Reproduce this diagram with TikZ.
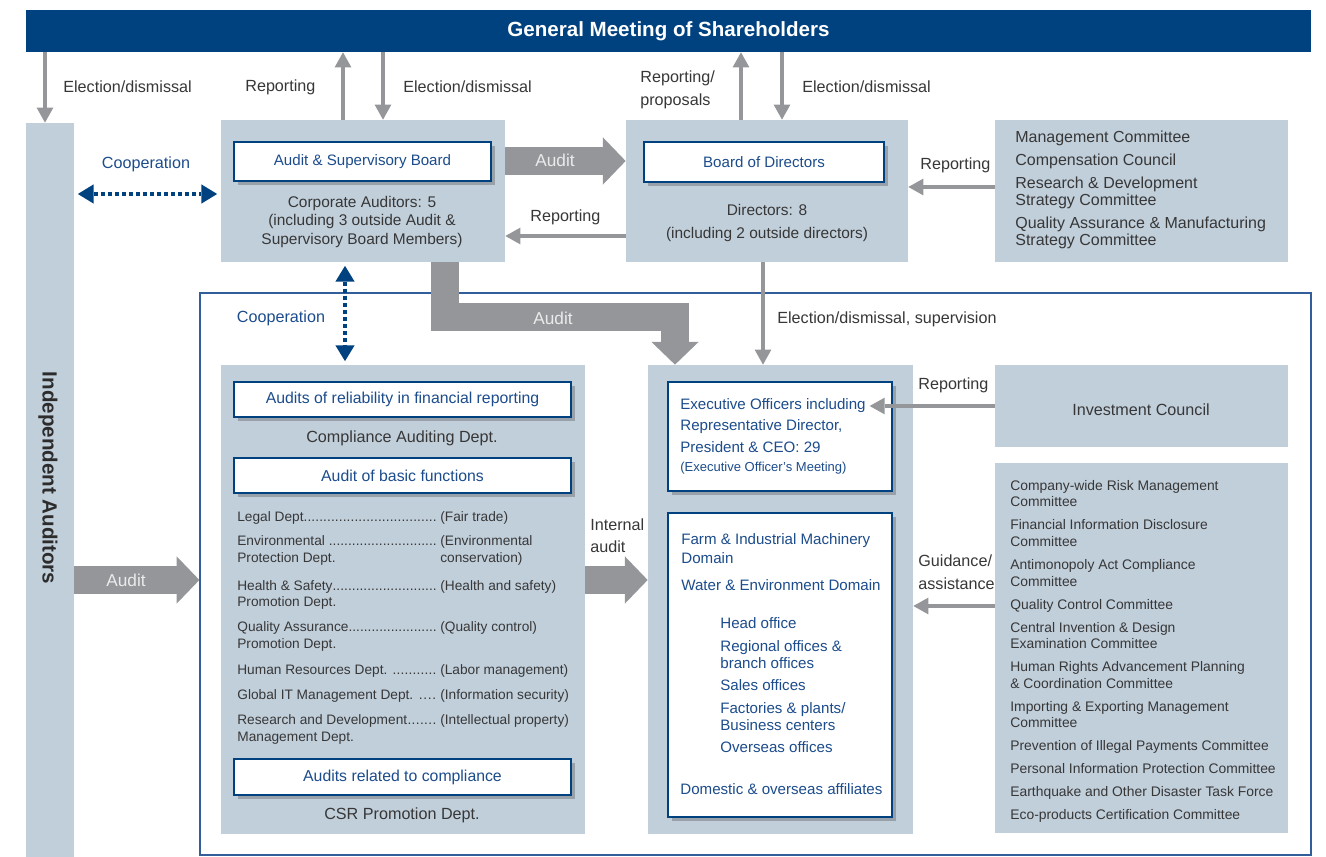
\documentclass[tikz,border=0pt]{standalone}
\usepackage{fontspec}
\setmainfont{Liberation Sans}
\usetikzlibrary{arrows.meta,fit,shadows}

\definecolor{gmblue}{RGB}{0,66,127}
\definecolor{boxgray}{RGB}{193,207,219}
\definecolor{arrowgray}{RGB}{148,150,153}
\definecolor{textblue}{RGB}{28,76,140}
\definecolor{textgray}{RGB}{55,55,55}
\definecolor{frameblue}{RGB}{50,95,155}

\newcommand{\fsTitle}{\fontsize{11.7}{14}\selectfont\bfseries}
\newcommand{\fsMain}{\fontsize{9.2}{11}\selectfont}
\newcommand{\fsBox}{\fontsize{8.6}{10.8}\selectfont}
\newcommand{\fsDept}{\fontsize{7.8}{9.6}\selectfont}
\newcommand{\fsNote}{\fontsize{7.4}{9}\selectfont}
% dotted leader between a department and its audit area
\newcommand{\deptrow}[2]{\makebox[115.5pt][l]{#1\xleaders\hbox{.}\hfill\kern2pt}#2}
\newcommand{\deptcont}[2]{\makebox[115.5pt][l]{#1}#2}

\tikzset{
  panel/.style={fill=boxgray, inner sep=0pt},
  wbox/.style={draw=gmblue, line width=0.6pt, fill=white, inner sep=0pt,
    drop shadow={shadow xshift=2pt, shadow yshift=-2.5pt, fill=black!70, opacity=0.35}},
  wtext/.style={text=textblue, font=\fsBox, inner sep=0pt},
  lbl/.style={text=textgray, font=\fsMain, inner sep=0pt},
  coop/.style={text=textblue, font=\fsMain, inner sep=0pt},
  garrow/.style={draw=arrowgray, line width=2.8pt,
    -{Triangle[width=9.5pt,length=8.5pt,line width=0pt]}},
  blockarrow/.style={draw=arrowgray, line width=16pt,
    -{Triangle[width=27pt,length=13pt,line width=0pt]}},
  blocklbl/.style={text=white!92!black, font=\fontsize{9.8}{12}\selectfont, inner sep=0pt},
  dotarrow/.style={draw=gmblue, line width=2.3pt, dash pattern=on 2.2pt off 1.8pt,
    shorten <=2pt, shorten >=2pt,
    {Triangle[width=11pt,length=9pt,line width=0pt]}-{Triangle[width=11pt,length=9pt,line width=0pt]}},
}

\begin{document}
\begin{tikzpicture}[x=0.02cm, y=-0.02cm]
\useasboundingbox (0,0) rectangle (1326,857);

% shareholders
\node[fit={(26,10) (1311,52)}, inner sep=0pt, fill=gmblue] (gm) {};
\node[text=white, font=\fsTitle, inner sep=0pt] (gmtext) at (gm.center) {General Meeting of Shareholders};

% independent auditors
\node[panel, fit={(26,123) (74,857)}] (ia) {};
\node[rotate=-90, text=textgray!80!black, font=\fsTitle] (iatext) at (48,478) {Independent Auditors};

% frame round the execution side
\node[draw=frameblue, line width=0.7pt, inner sep=0pt, fit={(200,293) (1311,855)}] (frame) {};

% audit & supervisory board
\node[panel, fit={(221,120) (505,262)}] (asb) {};
\node[wbox, fit={(234,142) (491,181)}] (asbt) {};
\node[wtext] (asbtext) at (asbt.center) {Audit \& Supervisory Board};
\node[lbl, align=center, font=\fontsize{8.8}{10.8}\selectfont] (asbinfo) at (362,222) {Corporate Auditors: 5\\(including 3 outside Audit \&\\Supervisory Board Members)};

% board of directors
\node[panel, fit={(626,120) (908,262)}] (bod) {};
\node[wbox, fit={(644,142) (884,182)}] (bodt) {};
\node[wtext] (bodtext) at (bodt.center) {Board of Directors};
\node[lbl, align=center, font=\fontsize{8.8}{13.6}\selectfont] (bodinfo) at (767,223) {Directors: 8\\(including 2 outside directors)};

% committees reporting to the board
\node[panel, fit={(995,120) (1288,262)}] (mc) {};
\node[lbl, anchor=west, align=left, font=\fontsize{9.1}{9.6}\selectfont] (mclist) at (1015,190) {Management Committee\\[3.4pt]Compensation Council\\[3.4pt]Research \& Development\\Strategy Committee\\[3.4pt]Quality Assurance \& Manufacturing\\Strategy Committee};

% internal audit departments
\node[panel, fit={(221,365) (585,834)}] (ada) {};
\node[wbox, fit={(234,382) (571,417)}] (ada1) {};
\node[wtext, font=\fontsize{9}{11}\selectfont] (ada1text) at (ada1.center) {Audits of reliability in financial reporting};
\node[lbl] (ada1d) at (402,438) {Compliance Auditing Dept.};
\node[wbox, fit={(234,458) (571,493)}] (ada2) {};
\node[wtext, font=\fontsize{9}{11}\selectfont] (ada2text) at (ada2.center) {Audit of basic functions};
\node[lbl, font=\fsDept, anchor=west] (d1) at (237,518) {\deptrow{Legal Dept.}{(Fair trade)}};
\node[lbl, font=\fsDept, anchor=west, align=left] (d2) at (237,550.5) {\deptrow{Environmental }{(Environmental}\\\deptcont{Protection Dept.}{conservation)}};
\node[lbl, font=\fsDept, anchor=west, align=left] (d3) at (237,595) {\deptrow{Health \& Safety}{(Health and safety)}\\Promotion Dept.};
\node[lbl, font=\fsDept, anchor=west, align=left] (d4) at (237,636.5) {\deptrow{Quality Assurance}{(Quality control)}\\Promotion Dept.};
\node[lbl, font=\fsDept, anchor=west] (d5) at (237,671) {\deptrow{Human Resources Dept. }{(Labor management)}};
\node[lbl, font=\fsDept, anchor=west] (d6) at (237,696) {\deptrow{Global IT Management Dept. }{(Information security)}};
\node[lbl, font=\fsDept, anchor=west, align=left] (d7) at (237,729.5) {\deptrow{Research and Development}{(Intellectual property)}\\Management Dept.};
\node[wbox, fit={(234,759) (571,795)}] (ada3) {};
\node[wtext, font=\fontsize{9}{11}\selectfont] (ada3text) at (ada3.center) {Audits related to compliance};
\node[lbl] (ada3d) at (402,815) {CSR Promotion Dept.};

% executive side
\node[panel, fit={(648,365) (913,834)}] (exe) {};
\node[wbox, fit={(668,382) (892,491)}] (eo) {};
\node[wtext, anchor=west, align=left, font=\fontsize{8.6}{12.2}\selectfont] (eotext) at (680,436) {Executive Officers including\\Representative Director,\\President \& CEO: 29\\[-1.4pt]{\fsNote (Executive Officer's Meeting)}};
\node[wbox, fit={(668,513) (892,817)}] (dom) {};
\node[wtext, anchor=west, align=left, font=\fontsize{8.6}{10.8}\selectfont] (dom1) at (681,562) {Farm \& Industrial Machinery\\Domain\\[4.5pt]Water \& Environment Domain};
\node[wtext, anchor=west, align=left, font=\fontsize{8.6}{9.9}\selectfont] (dom2) at (720,685.5) {Head office\\[2.8pt]Regional offices \&\\branch offices\\[2.8pt]Sales offices\\[2.8pt]Factories \& plants/\\Business centers\\[2.8pt]Overseas offices};
\node[wtext, anchor=west] (dom3) at (680,789) {Domestic \& overseas affiliates};

% councils and committees
\node[panel, fit={(995,365) (1288,447)}] (inv) {};
\node[lbl] (invtext) at (1141,410) {Investment Council};
\node[panel, fit={(995,463) (1288,833)}] (com) {};
\node[lbl, anchor=west, align=left, font=\fontsize{7.9}{9.4}\selectfont] (comlist) at (1010,651.5) {Company-wide Risk Management\\Committee\\[3.7pt]Financial Information Disclosure\\Committee\\[3.7pt]Antimonopoly Act Compliance\\Committee\\[3.7pt]Quality Control Committee\\[3.7pt]Central Invention \& Design\\Examination Committee\\[3.7pt]Human Rights Advancement Planning\\\& Coordination Committee\\[3.7pt]Importing \& Exporting Management\\Committee\\[3.7pt]Prevention of Illegal Payments Committee\\[3.7pt]Personal Information Protection Committee\\[3.7pt]Earthquake and Other Disaster Task Force\\[3.7pt]Eco-products Certification Committee};

% shareholders <-> boards
\draw[garrow] (gm.south -| 45,0) -- (ia.north -| 45,0);
\node[lbl, anchor=west] (l1) at (63,87) {Election/dismissal};
\draw[garrow] (asb.north -| 343,0) -- (gm.south -| 343,0);
\node[lbl, anchor=west] (l2) at (245,87) {Reporting};
\draw[garrow] (gm.south -| 383,0) -- (asb.north -| 383,0);
\node[lbl, anchor=west] (l3) at (403,87) {Election/dismissal};
\draw[garrow] (bod.north -| 741,0) -- (gm.south -| 741,0);
\node[lbl, anchor=west, align=left, font=\fontsize{9.2}{13}\selectfont] (l4) at (640,90) {Reporting/\\proposals};
\draw[garrow] (gm.south -| 782,0) -- (bod.north -| 782,0);
\node[lbl, anchor=west] (l5) at (802,87) {Election/dismissal};

% board level
\draw[garrow] (mc.west |- 0,187) -- (bod.east |- 0,187);
\node[lbl, anchor=west] (l6) at (920,165) {Reporting};
\draw[blockarrow] (asb.east |- 0,161) -- (bod.west |- 0,161);
\node[blocklbl] (l7) at (555,160) {Audit};
\draw[garrow] (bod.west |- 0,236) -- (asb.east |- 0,236);
\node[lbl, anchor=west] (l8) at (530,217) {Reporting};
\draw[dotarrow] (ia.east |- 0,194) -- (asb.west |- 0,194);
\node[coop] (l9) at (146,164) {Cooperation};
\draw[dotarrow] (asb.south -| 345,0) -- (ada.north -| 345,0);
\node[coop] (l10) at (281,318) {Cooperation};

% down to execution
\draw[blockarrow] (asb.south -| 445,0) |- (675,317) -- (exe.north -| 675,0);
\node[blocklbl] (l11) at (553,318) {Audit};
\draw[garrow] (bod.south -| 763,0) -- (exe.north -| 763,0);
\node[lbl, anchor=west] (l12) at (777,319) {Election/dismissal, supervision};
\draw[garrow, shorten >=-13pt] (inv.west |- 0,406) -- (eo.east |- 0,406);
\node[lbl, anchor=west] (l13) at (918,385) {Reporting};
\draw[garrow] (com.west |- 0,606) -- (exe.east |- 0,606);
\node[lbl, anchor=west, align=left, font=\fontsize{9.2}{13}\selectfont] (l14) at (918,572) {Guidance/\\assistance};
\draw[blockarrow] (ada.east |- 0,580) -- (exe.west |- 0,580);
\node[lbl, anchor=west, align=left, font=\fontsize{9.2}{12.5}\selectfont] (l15) at (590,536) {Internal\\audit};
\draw[blockarrow] (ia.east |- 0,580) -- (frame.west |- 0,580);
\node[blocklbl] (l16) at (126,580) {Audit};
\end{tikzpicture}
\end{document}
